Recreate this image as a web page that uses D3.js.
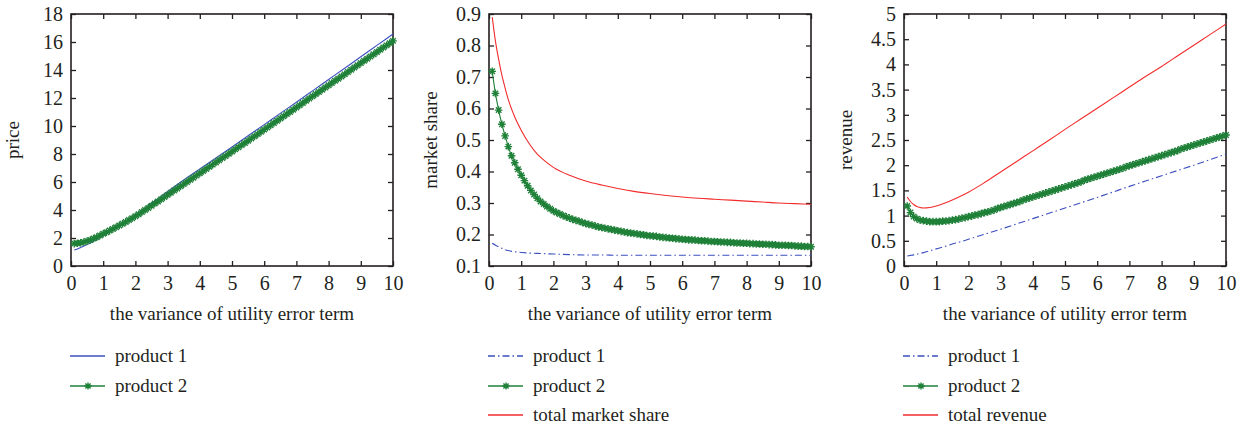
<!DOCTYPE html>
<html>
<head>
<meta charset="utf-8">
<script src="https://cdn.jsdelivr.net/npm/d3@7"></script>
<style>
  body { margin: 0; background: #fff; }
  svg text { font-family: "Liberation Serif", "DejaVu Serif", serif; fill: #231f20; }
</style>
</head>
<body>
<div id="chart"></div>
<script>
// x grid of the marked series (product 2), one point every 0.1
const varianceFine = [0.1,0.2,0.3,0.4,0.5,0.6,0.7,0.8,0.9,1.0,1.1,1.2,1.3,1.4,1.5,1.6,1.7,1.8,1.9,2.0,
  2.1,2.2,2.3,2.4,2.5,2.6,2.7,2.8,2.9,3.0,3.1,3.2,3.3,3.4,3.5,3.6,3.7,3.8,3.9,4.0,
  4.1,4.2,4.3,4.4,4.5,4.6,4.7,4.8,4.9,5.0,5.1,5.2,5.3,5.4,5.5,5.6,5.7,5.8,5.9,6.0,
  6.1,6.2,6.3,6.4,6.5,6.6,6.7,6.8,6.9,7.0,7.1,7.2,7.3,7.4,7.5,7.6,7.7,7.8,7.9,8.0,
  8.1,8.2,8.3,8.4,8.5,8.6,8.7,8.8,8.9,9.0,9.1,9.2,9.3,9.4,9.5,9.6,9.7,9.8,9.9,10.0];
// x grid of the plain lines
const varianceCoarse = [0.1,0.2,0.3,0.4,0.5,0.6,0.8,1,1.25,1.5,1.75,2,2.5,3,3.5,4,4.5,5,5.5,6,6.5,7,7.5,8,8.5,9,9.5,10];

const xTicks = [0,1,2,3,4,5,6,7,8,9,10];
const priceTicks = [0,2,4,6,8,10,12,14,16,18];
const shareTicks = [0.1,0.2,0.3,0.4,0.5,0.6,0.7,0.8,0.9];
const revenueTicks = [0,0.5,1,1.5,2,2.5,3,3.5,4,4.5,5];

// price
const priceProduct1 = [1.14,1.22,1.32,1.42,1.53,1.65,1.90,2.17,2.50,2.87,3.25,3.65,4.48,5.32,6.14,6.93,7.71,8.50,
  9.30,10.10,10.90,11.70,12.51,13.32,14.13,14.95,15.76,16.57];
const priceProduct2 = [1.60,1.62,1.66,1.71,1.78,1.86,1.96,2.06,2.18,2.30,2.41,2.53,2.65,2.77,2.90,3.02,3.15,3.28,3.41,3.55,
  3.70,3.85,4.00,4.15,4.30,4.46,4.61,4.77,4.92,5.08,5.23,5.39,5.54,5.70,5.85,6.00,6.16,6.31,6.47,6.62,
  6.78,6.93,7.09,7.24,7.40,7.55,7.71,7.86,8.02,8.17,8.33,8.48,8.64,8.79,8.95,9.11,9.27,9.42,9.58,9.74,
  9.90,10.06,10.21,10.37,10.53,10.69,10.85,11.00,11.16,11.32,11.48,11.64,11.80,11.96,12.12,12.28,12.43,12.59,12.75,12.91,
  13.07,13.23,13.38,13.54,13.70,13.86,14.02,14.18,14.34,14.50,14.66,14.81,14.97,15.13,15.29,15.45,15.61,15.76,15.92,16.08];

// market share
const shareProduct1 = [0.172,0.166,0.161,0.156,0.152,0.149,0.145,0.143,0.141,0.140,0.139,0.138,0.136,0.135,0.135,0.134,
  0.134,0.134,0.134,0.134,0.134,0.134,0.134,0.134,0.134,0.134,0.134,0.134];
const shareProduct2 = [0.718,0.648,0.595,0.550,0.513,0.479,0.450,0.428,0.407,0.388,0.371,0.355,0.340,0.327,0.315,0.305,0.297,0.289,0.282,0.275,
  0.270,0.265,0.260,0.256,0.252,0.248,0.245,0.242,0.238,0.235,0.232,0.230,0.227,0.224,0.222,0.220,0.218,0.216,0.214,0.212,
  0.210,0.208,0.206,0.205,0.203,0.202,0.200,0.199,0.197,0.196,0.195,0.194,0.192,0.191,0.190,0.189,0.188,0.187,0.186,0.185,
  0.184,0.183,0.183,0.182,0.181,0.180,0.180,0.179,0.178,0.178,0.177,0.176,0.176,0.175,0.175,0.174,0.173,0.173,0.172,0.172,
  0.171,0.171,0.170,0.170,0.169,0.169,0.168,0.168,0.167,0.166,0.166,0.166,0.165,0.165,0.164,0.163,0.163,0.162,0.162,0.161];
const shareTotal = [0.890,0.814,0.756,0.706,0.665,0.628,0.573,0.531,0.488,0.455,0.432,0.413,0.388,0.370,0.357,0.346,
  0.337,0.330,0.324,0.319,0.315,0.312,0.309,0.306,0.303,0.300,0.298,0.296];

// revenue
const revenueProduct1 = [0.20,0.21,0.22,0.235,0.25,0.265,0.30,0.34,0.385,0.435,0.48,0.53,0.63,0.73,0.835,0.94,
  1.045,1.15,1.255,1.36,1.47,1.58,1.685,1.79,1.895,2.00,2.11,2.22];
const revenueProduct2 = [1.19,1.06,0.98,0.94,0.91,0.90,0.89,0.88,0.88,0.88,0.88,0.89,0.89,0.90,0.91,0.92,0.93,0.95,0.96,0.98,
  0.99,1.01,1.02,1.04,1.06,1.07,1.09,1.11,1.14,1.16,1.18,1.20,1.22,1.24,1.26,1.28,1.31,1.33,1.35,1.37,
  1.39,1.41,1.43,1.45,1.47,1.49,1.51,1.53,1.55,1.57,1.59,1.61,1.63,1.65,1.67,1.70,1.72,1.74,1.76,1.78,
  1.80,1.82,1.84,1.86,1.88,1.90,1.92,1.94,1.97,1.99,2.01,2.03,2.05,2.07,2.09,2.11,2.13,2.15,2.17,2.19,
  2.21,2.23,2.25,2.27,2.29,2.32,2.34,2.36,2.38,2.40,2.42,2.44,2.46,2.48,2.50,2.52,2.54,2.56,2.58,2.60];
const revenueTotal = [1.37,1.28,1.22,1.18,1.16,1.15,1.16,1.19,1.245,1.31,1.385,1.465,1.655,1.865,2.075,2.285,
  2.495,2.71,2.92,3.13,3.34,3.55,3.76,3.96,4.17,4.38,4.59,4.80];

const xLabel = "the variance of utility error term";

const BLUE = "#3c4fbf", GREEN = "#1f8038", RED = "#f22c2c", INK = "#231f20";
const DASHDOT = "7,3,1.5,3";

const W = 1242, H = 428;
const plotTop = 14, plotBottom = 266, plotW = 322;

const svg = d3.select("#chart").append("svg")
  .attr("width", W).attr("height", H)
  .style("background", "#fff");

const panels = [
  {
    left: 71, yLabel: "price", yDomain: [0, 18], yTicks: priceTicks,
    series: [
      {name: "product 1", xs: varianceCoarse, ys: priceProduct1, color: BLUE, dash: null},
      {name: "product 2", xs: varianceFine, ys: priceProduct2, color: GREEN, marker: true}
    ]
  },
  {
    left: 489, yLabel: "market share", yDomain: [0.1, 0.9], yTicks: shareTicks,
    series: [
      {name: "product 1", xs: varianceCoarse, ys: shareProduct1, color: BLUE, dash: DASHDOT},
      {name: "product 2", xs: varianceFine, ys: shareProduct2, color: GREEN, marker: true},
      {name: "total market share", xs: varianceCoarse, ys: shareTotal, color: RED, dash: null}
    ]
  },
  {
    left: 904, yLabel: "revenue", yDomain: [0, 5], yTicks: revenueTicks,
    series: [
      {name: "product 1", xs: varianceCoarse, ys: revenueProduct1, color: BLUE, dash: DASHDOT},
      {name: "product 2", xs: varianceFine, ys: revenueProduct2, color: GREEN, marker: true},
      {name: "total revenue", xs: varianceCoarse, ys: revenueTotal, color: RED, dash: null}
    ]
  }
];

// asterisk marker, like matlab '*'
function drawStar(g, cx, cy, color, r) {
  const d = r * 0.72;
  g.append("path")
    .attr("d", `M${cx - r},${cy}H${cx + r}M${cx},${cy - r}V${cy + r}` +
      `M${cx - d},${cy - d}L${cx + d},${cy + d}M${cx - d},${cy + d}L${cx + d},${cy - d}`)
    .attr("stroke", color).attr("stroke-width", 1.4).attr("fill", "none");
}

function drawPanel(p) {
  const x = d3.scaleLinear().domain([0, 10]).range([p.left, p.left + plotW]);
  const y = d3.scaleLinear().domain(p.yDomain).range([plotBottom, plotTop]);
  const g = svg.append("g");

  // axes, ticks pointing inward on every side
  const fmt = v => String(+v.toFixed(2));
  const ax = [
    g.append("g").attr("transform", `translate(0,${plotBottom})`)
      .call(d3.axisBottom(x).tickValues(xTicks).tickSize(-5).tickPadding(10).tickFormat(fmt)),
    g.append("g").attr("transform", `translate(0,${plotTop})`)
      .call(d3.axisTop(x).tickValues(xTicks).tickSize(-5).tickFormat("")),
    g.append("g").attr("transform", `translate(${p.left},0)`)
      .call(d3.axisLeft(y).tickValues(p.yTicks).tickSize(-5).tickPadding(8).tickFormat(fmt)),
    g.append("g").attr("transform", `translate(${p.left + plotW},0)`)
      .call(d3.axisRight(y).tickValues(p.yTicks).tickSize(-5).tickFormat(""))
  ];
  ax.forEach(a => {
    a.select(".domain").remove();
    a.selectAll("line").attr("stroke", INK).attr("stroke-width", 1.3);
    a.selectAll("text").style("font-family", "'Liberation Serif', serif")
      .style("font-size", "20px").attr("fill", INK);
  });

  // plot frame
  g.append("rect")
    .attr("x", p.left).attr("y", plotTop)
    .attr("width", plotW).attr("height", plotBottom - plotTop)
    .attr("fill", "none").attr("stroke", INK).attr("stroke-width", 1.6);

  const line = d3.line().curve(d3.curveMonotoneX);

  p.series.forEach(s => {
    const pts = s.xs.map((v, i) => [x(v), y(s.ys[i])]);
    g.append("path")
      .attr("d", line(pts))
      .attr("fill", "none")
      .attr("stroke", s.color)
      .attr("stroke-width", 1.1)
      .attr("stroke-dasharray", s.dash);
    if (s.marker) {
      const mg = g.append("g");
      pts.forEach(pt => drawStar(mg, pt[0], pt[1], s.color, 3.8));
    }
  });

  // axis titles
  g.append("text")
    .attr("x", p.left + plotW / 2).attr("y", 320)
    .attr("text-anchor", "middle")
    .style("font-size", "19px")
    .text(xLabel);
  g.append("text")
    .attr("transform", `translate(${p.left - 52},${(plotTop + plotBottom) / 2}) rotate(-90)`)
    .attr("text-anchor", "middle")
    .style("font-size", "19px")
    .text(p.yLabel);

  // legend below each panel
  const rowY = [356, 386, 415];
  p.series.forEach((s, i) => {
    const ly = rowY[i];
    const lx = p.left;
    g.append("line")
      .attr("x1", lx - 1).attr("x2", lx + 34)
      .attr("y1", ly).attr("y2", ly)
      .attr("stroke", s.color).attr("stroke-width", 1.4)
      .attr("stroke-dasharray", s.dash);
    if (s.marker) drawStar(g, lx + 17, ly, s.color, 3.6);
    g.append("text")
      .attr("x", lx + 44).attr("y", ly + 6)
      .style("font-size", "19px")
      .text(s.name);
  });
}

panels.forEach(drawPanel);
</script>
</body>
</html>
